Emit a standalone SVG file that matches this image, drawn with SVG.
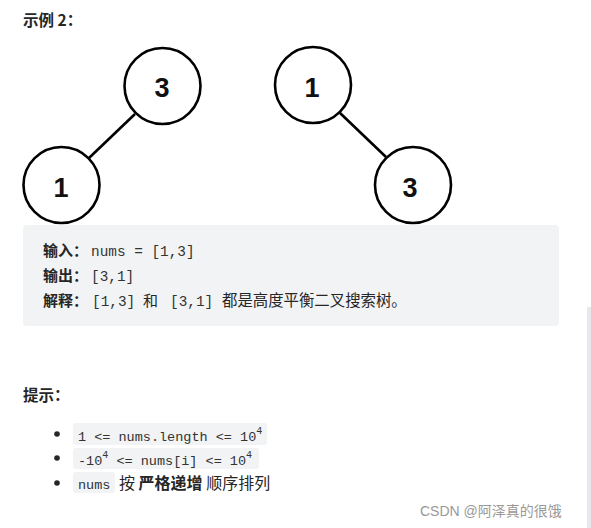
<svg xmlns="http://www.w3.org/2000/svg" width="591" height="528" viewBox="0 0 591 528">
<style>
.cn{font-family:"Noto Sans CJK SC","Noto Sans",sans-serif;fill:#262626}
.b{font-weight:bold}
.mono{font-family:"Liberation Mono",monospace;fill:#333}
.node circle{fill:#fff;stroke:#000;stroke-width:2.6}
.node text{font-family:"Liberation Sans",Arial,sans-serif;font-weight:bold;font-size:27px;fill:#111;text-anchor:middle}
.edge{stroke:#000;stroke-width:2.6}
.code{fill:#f2f3f5}
</style>
<rect width="591" height="528" fill="#fff"/>
<text class="cn b" x="23" y="26" font-size="15.5">示例 2：</text>
<g id="connectors">
<line class="edge" x1="135" y1="114" x2="89" y2="158"/>
<line class="edge" x1="340" y1="113" x2="386" y2="157"/>
</g>
<g id="n3a" class="node"><circle cx="162.5" cy="86" r="38"/><text x="162" y="97">3</text></g>
<g id="n1a" class="node"><circle cx="61.5" cy="185" r="38"/><text x="61" y="197">1</text></g>
<g id="n1b" class="node"><circle cx="313" cy="85" r="38"/><text x="312" y="97">1</text></g>
<g id="n3b" class="node"><circle cx="413" cy="185" r="38"/><text x="410" y="197">3</text></g>
<rect x="23" y="225" width="536" height="101" rx="4" fill="#f2f3f5"/>
<text class="cn b" x="43" y="256" font-size="15">输入：</text>
<text class="mono" x="91" y="256" font-size="14.4">nums = [1,3]</text>
<text class="cn b" x="43" y="281" font-size="15">输出：</text>
<text class="mono" x="91" y="281" font-size="14.4">[3,1]</text>
<text class="cn b" x="43" y="306" font-size="15">解释：</text>
<text class="mono" x="92" y="306" font-size="14.4">[1,3]</text>
<text class="cn" x="143" y="306" font-size="15">和</text>
<text class="mono" x="170" y="306" font-size="14.4">[3,1]</text>
<text class="cn" x="222" y="306" font-size="15.4">都是高度平衡二叉搜索树。</text>
<text class="cn b" x="23" y="401" font-size="15.5">提示：</text>
<circle cx="57" cy="434" r="2.8" fill="#262626"/>
<circle cx="57" cy="458" r="2.8" fill="#262626"/>
<circle cx="57" cy="483" r="2.8" fill="#262626"/>
<rect class="code" x="73" y="423" width="194" height="22" rx="3"/>
<rect class="code" x="73" y="448" width="186" height="21" rx="3"/>
<rect class="code" x="73" y="472" width="42" height="21" rx="3"/>
<text class="mono" x="78" y="441" font-size="13.5">1 &lt;= nums.length &lt;= 10<tspan font-size="10" dy="-7">4</tspan></text>
<text class="mono" x="78" y="465" font-size="13.5">-10<tspan font-size="10" dy="-7">4</tspan><tspan dy="7"> &lt;= nums[i] &lt;= 10</tspan><tspan font-size="10" dy="-7">4</tspan></text>
<text class="mono" x="78" y="489" font-size="13.5">nums</text>
<text class="cn" x="119" y="489" font-size="16">按 <tspan class="b">严格递增</tspan> 顺序排列</text>
<text x="420" y="516" font-family="Liberation Sans,'Noto Sans CJK SC',sans-serif" font-size="14" fill="#999">CSDN @阿泽真的很饿</text>
<rect x="587" y="307" width="4" height="221" fill="#e8e8ec"/>
</svg>
